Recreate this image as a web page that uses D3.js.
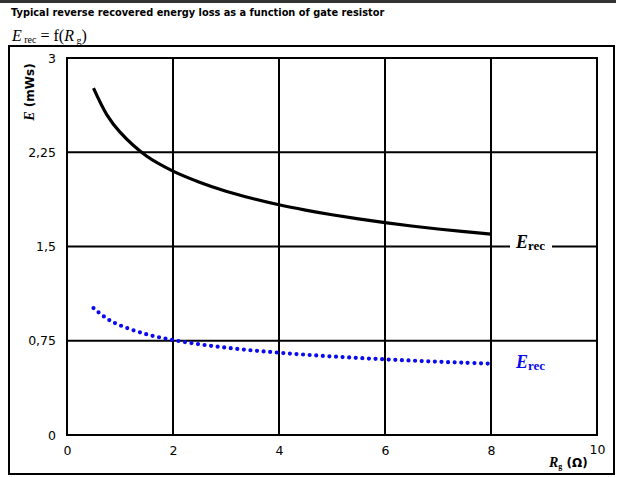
<!DOCTYPE html>
<html>
<head>
<meta charset="utf-8">
<script src="https://cdn.jsdelivr.net/npm/d3@7"></script>
<style>
  html, body { margin: 0; padding: 0; background: #fff; }
  svg { display: block; }
</style>
</head>
<body>
<svg id="chart" width="624" height="477"></svg>
<script>
// Gate resistance (Ω) sample points
const rg = [0.5, 0.75, 1, 1.5, 2, 2.5, 3, 3.5, 4, 4.5, 5, 5.5, 6, 6.5, 7, 7.5, 8];
// Reverse recovered energy (mWs), upper curve (solid black)
const erecHigh = [2.76, 2.55, 2.41, 2.22, 2.10, 2.012, 1.94, 1.882, 1.832, 1.79, 1.753, 1.72, 1.69, 1.663, 1.639, 1.618, 1.598];
// Reverse recovered energy (mWs), lower curve (dotted blue)
const erecLow = [1.01, 0.927, 0.873, 0.802, 0.756, 0.722, 0.695, 0.673, 0.655, 0.639, 0.625, 0.613, 0.602, 0.592, 0.583, 0.575, 0.567];
// Axis ticks
const xTicks = [0, 2, 4, 6, 8, 10];
const yTicks = [0, 0.75, 1.5, 2.25, 3];
const yTickLabels = ["0", "0,75", "1,5", "2,25", "3"];

const svg = d3.select("#chart");
const plot = { left: 67, right: 597, top: 58, bottom: 435 };
const sans = "DejaVu Sans, Verdana, sans-serif";
const serif = "Liberation Serif, Times New Roman, serif";

const x = d3.scaleLinear().domain([0, 10]).range([plot.left, plot.right]);
const y = d3.scaleLinear().domain([0, 3]).range([plot.bottom, plot.top]);

// Header bar and title
svg.append("rect").attr("x", 0).attr("y", 0).attr("width", 616).attr("height", 3).attr("fill", "#333");
svg.append("text")
  .attr("x", 11).attr("y", 16)
  .attr("font-family", sans)
  .attr("font-weight", "bold").attr("font-size", 9.8)
  .text("Typical reverse recovered energy loss as a function of gate resistor");

// Formula line  E_rec = f(R_g)
const f = svg.append("text")
  .attr("x", 12).attr("y", 41)
  .attr("font-family", serif)
  .attr("font-size", 16);
f.append("tspan").attr("font-style", "italic").text("E");
f.append("tspan").attr("font-size", 10).attr("dy", 2).text(" rec");
f.append("tspan").attr("dy", -2).text(" = f(");
f.append("tspan").attr("font-style", "italic").text("R");
f.append("tspan").attr("font-size", 10).attr("dy", 3).text(" g");
f.append("tspan").attr("dy", -3).text(")");

// Outer frame
svg.append("rect")
  .attr("x", 9).attr("y", 46).attr("width", 605).attr("height", 428)
  .attr("fill", "none").attr("stroke", "#000").attr("stroke-width", 2);

// Grid
const grid = svg.append("g").attr("stroke", "#000").attr("stroke-width", 2);
grid.selectAll("line.v").data(xTicks.slice(1, -1)).join("line")
  .attr("class", "v")
  .attr("x1", d => x(d)).attr("x2", d => x(d))
  .attr("y1", plot.top).attr("y2", plot.bottom);
grid.selectAll("line.h").data(yTicks.slice(1, -1)).join("line")
  .attr("class", "h")
  .attr("x1", plot.left).attr("x2", plot.right)
  .attr("y1", d => y(d)).attr("y2", d => y(d));

// Plot border
svg.append("rect")
  .attr("x", plot.left).attr("y", plot.top)
  .attr("width", plot.right - plot.left).attr("height", plot.bottom - plot.top)
  .attr("fill", "none").attr("stroke", "#000").attr("stroke-width", 2);

// Axes (labels only, no tick marks)
const xAxis = d3.axisBottom(x).tickValues(xTicks).tickSize(0).tickPadding(11).tickFormat(d3.format("d"));
const gx = svg.append("g").attr("transform", `translate(0,${plot.bottom})`).call(xAxis);
gx.select(".domain").remove();
gx.selectAll("text").attr("font-family", sans).attr("font-size", 12.5).attr("fill", "#000");
gx.selectAll(".tick").filter(d => d === 10).select("text").attr("dy", "0.6em");

const yAxis = d3.axisLeft(y).tickValues(yTicks).tickSize(0).tickPadding(11)
  .tickFormat((d, i) => yTickLabels[i]);
const gy = svg.append("g").attr("transform", `translate(${plot.left},0)`).call(yAxis);
gy.select(".domain").remove();
gy.selectAll("text").attr("font-family", sans).attr("font-size", 12.5).attr("fill", "#000");

// Axis titles
const yt = svg.append("text")
  .attr("transform", "translate(34,92) rotate(-90)")
  .attr("text-anchor", "middle")
  .attr("font-weight", "bold").attr("font-size", 12);
yt.append("tspan").attr("font-family", serif)
  .attr("font-style", "italic").attr("font-size", 14).text("E");
yt.append("tspan").attr("font-family", sans).text(" (mWs)");

const xt = svg.append("text")
  .attr("x", 549).attr("y", 467)
  .attr("font-weight", "bold").attr("font-size", 12);
xt.append("tspan").attr("font-family", serif)
  .attr("font-style", "italic").attr("font-size", 14).text("R");
xt.append("tspan").attr("font-family", serif)
  .attr("font-size", 8).attr("dy", 2).text("g");
xt.append("tspan").attr("font-family", sans)
  .attr("dy", -2).text(" (Ω)");

// Curves
const line = d3.line().curve(d3.curveCatmullRom);
const highPts = rg.map((r, i) => [x(r), y(erecHigh[i])]);
const lowPts = rg.map((r, i) => [x(r), y(erecLow[i])]);

svg.append("path")
  .attr("d", line(highPts))
  .attr("fill", "none").attr("stroke", "#000").attr("stroke-width", 3.2);

svg.append("path")
  .attr("d", line(lowPts))
  .attr("fill", "none").attr("stroke", "#0a0af0")
  .attr("stroke-width", 4.2).attr("stroke-linecap", "round")
  .attr("stroke-dasharray", "0,6.6");

// Series labels
function seriesLabel(xp, yp, color, bg) {
  const g = svg.append("g");
  if (bg) {
    g.append("rect").attr("x", xp - 6).attr("y", yp - 16).attr("width", 42).attr("height", 22).attr("fill", "#fff");
  }
  const t = g.append("text").attr("x", xp).attr("y", yp)
    .attr("font-family", serif)
    .attr("font-weight", "bold").attr("fill", color).attr("font-size", 18);
  t.append("tspan").attr("font-style", "italic").text("E");
  t.append("tspan").attr("font-size", 13).attr("dy", 2).text("rec");
}
seriesLabel(516, y(1.5) + 1, "#000", true);
seriesLabel(516, 368, "#0a0af0", false);
</script>
</body>
</html>
